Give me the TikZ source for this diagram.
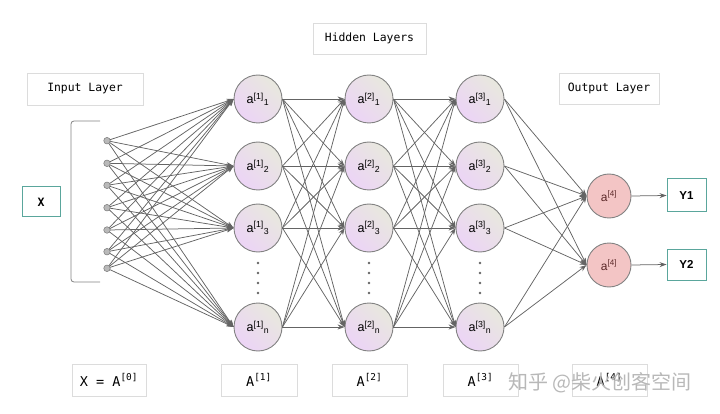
\documentclass[tikz,border=0pt]{standalone}
\usepackage{fontspec}
\setmainfont{Liberation Sans}
\newfontfamily\monof{DejaVu Sans Mono}
\newfontfamily\cjk{Noto Sans CJK SC}
\usetikzlibrary{arrows.meta}
\definecolor{lblgray}{RGB}{220,220,220}
\definecolor{teal1}{RGB}{90,166,156}
\definecolor{linegray}{RGB}{100,100,100}
\definecolor{circborder}{RGB}{130,130,130}
\definecolor{purp}{RGB}{236,212,246}
\definecolor{beige}{RGB}{232,232,222}
\definecolor{pinkf}{RGB}{243,197,197}
\definecolor{darkred}{RGB}{90,40,40}
\tikzset{
  lblbox/.style={draw=lblgray, line width=0.8pt, fill=white, inner sep=0pt, font=\monof\fontsize{11.4}{12}\selectfont},
  botbox/.style={draw=lblgray, line width=0.8pt, fill=white, inner sep=0pt, font=\monof\fontsize{13.5}{14}\selectfont},
  neuron/.style={circle, draw=circborder, line width=0.9pt, minimum size=48pt, inner sep=0pt,
     left color=purp, right color=beige, shading angle=135, font=\fontsize{12.5}{12.5}\selectfont},
  outneuron/.style={circle, draw=circborder, line width=0.9pt, minimum size=44pt, inner sep=0pt,
     fill=pinkf, text=darkred, font=\fontsize{12}{12}\selectfont},
  tealbox/.style={draw=teal1, line width=1pt, fill=white, inner sep=0pt, font=\bfseries\fontsize{11.5}{11.5}\selectfont},
  indot/.style={circle, draw=circborder, fill=gray!55, line width=0.6pt, minimum size=6.5pt, inner sep=0pt},
  vdot/.style={circle, fill=linegray, minimum size=2.6pt, inner sep=0pt},
  conn/.style={draw=linegray, line width=0.75pt, -{Stealth[length=7pt,width=5pt]}},
}
\begin{document}
\begin{tikzpicture}[x=1pt,y=-1pt]
\useasboundingbox (0,0) rectangle (720,414);
% labels
\node[lblbox, minimum width=113pt, minimum height=31pt] (hid) at (369.5,38.5) {Hidden Layers};
\node[lblbox, minimum width=116pt, minimum height=32pt] (inl) at (85,89) {Input Layer};
\node[lblbox, minimum width=100pt, minimum height=31pt] (outl) at (609,88.5) {Output Layer};
% X box
\node[tealbox, font=\monof\bfseries\fontsize{11.5}{11.5}\selectfont, minimum width=38pt, minimum height=30pt] (xin) at (41,202) {X};
% bracket
\draw[circborder, line width=0.8pt, rounded corners=3pt] (100,121) -- (71,121) -- (71,282) -- (100,282);
% input dots
\foreach \i/\y in {1/140.7,2/163.3,3/185.3,4/207.7,5/230,6/251.7,7/268.3}
  \coordinate (in\i) at (107,\y);
% hidden neurons
\foreach \l/\x in {1/258,2/369,3/480}{
  \node[neuron] (h\l-1) at (\x,99) {a\textsuperscript{[\l]}\textsubscript{1}};
  \node[neuron] (h\l-2) at (\x,166) {a\textsuperscript{[\l]}\textsubscript{2}};
  \node[neuron] (h\l-3) at (\x,228) {a\textsuperscript{[\l]}\textsubscript{3}};
  \node[neuron] (h\l-4) at (\x,327) {a\textsuperscript{[\l]}\textsubscript{n}};
  \foreach \k/\yy in {1/263,2/273,3/283,4/293}
    \node[vdot] (vd\l-\k) at (\x,\yy) {};
}
% output neurons
\node[outneuron] (o1) at (609,196) {a\textsuperscript{[4]}};
\node[outneuron] (o2) at (609,265) {a\textsuperscript{[4]}};
\node[tealbox, minimum width=39pt, minimum height=33pt] (y1) at (686.5,195.5) {Y1};
\node[tealbox, minimum width=39pt, minimum height=31pt] (y2) at (686.5,264.5) {Y2};
% connections input -> layer 1
\foreach \i in {1,...,7}
  \foreach \j in {1,...,4}
    \draw[conn] (in\i) -- (h1-\j.west);
\foreach \i in {1,...,7}
  \node[indot] (d\i) at (in\i) {};
% hidden -> hidden
\foreach \a/\b in {1/2,2/3}
  \foreach \i in {1,...,4}
    \foreach \j in {1,...,4}
      \draw[conn] (h\a-\i.east) -- (h\b-\j.west);
% layer 3 -> output
\foreach \i in {1,...,4}
  \foreach \j in {1,2}
    \draw[conn] (h3-\i.east) -- (o\j.west);
\draw[conn] (o1.east) -- (y1.west);
\draw[conn] (o2.east) -- (y2.west);
% bottom boxes
\node[botbox, minimum width=74pt, minimum height=32pt] (b0) at (109,380) {X = A\textsuperscript{[0]}};
\node[botbox, minimum width=76pt, minimum height=32pt] (b1) at (259,380) {A\textsuperscript{[1]}};
\node[botbox, minimum width=75pt, minimum height=32pt] (b2) at (369.5,380) {A\textsuperscript{[2]}};
\node[botbox, minimum width=75pt, minimum height=32pt] (b3) at (480.5,380) {A\textsuperscript{[3]}};
\node[botbox, minimum width=75pt, minimum height=32pt] (b4) at (609.5,380) {A\textsuperscript{[4]}};
% watermark
\node[font=\cjk\fontsize{20}{20}\selectfont, text=black!28, anchor=west, inner sep=0pt] (wm) at (508,383) {知乎 @柴火创客空间};
\end{tikzpicture}
\end{document}
